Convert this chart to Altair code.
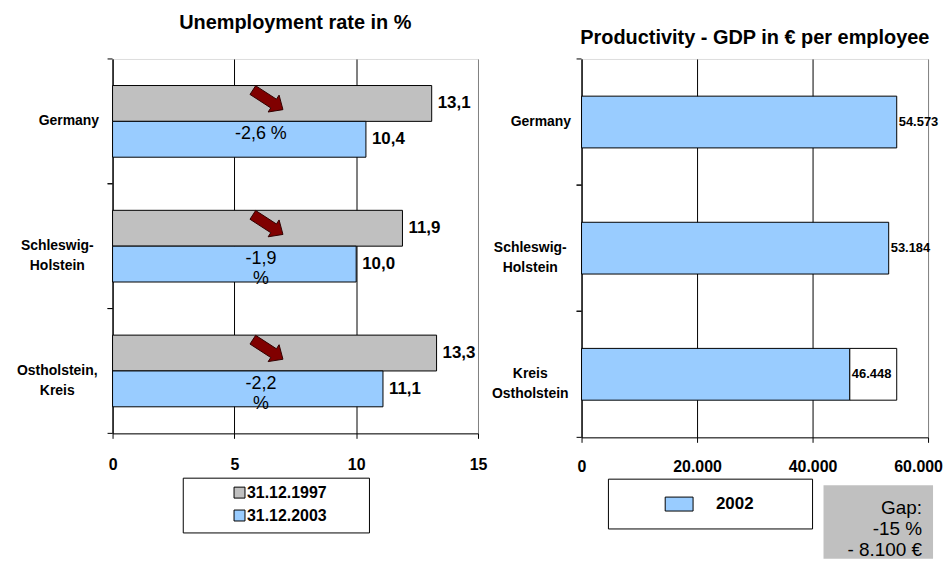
import math
import altair as alt
import pandas as pd

# ---------------- data ----------------
regions_u = ["Germany", "Schleswig-\nHolstein", "Ostholstein,\nKreis"]
series_u = ["31.12.1997", "31.12.2003"]
rate_1997 = [13.1, 11.9, 13.3]
rate_2003 = [10.4, 10.0, 11.1]
change_labels = ["-2,6 %", "-1,9\n%", "-2,2\n%"]
u_ticks = [0, 5, 10, 15]

regions_p = ["Germany", "Schleswig-\nHolstein", "Kreis\nOstholstein"]
year_p = ["2002"]
gdp_2002 = [54573, 53184, 46448]
gap_lines = ["Gap:", "-15 %", "- 8.100 €"]
p_ticks = [0, 20000, 40000, 60000]

colors_u = ["#C0C0C0", "#99CCFF"]
colors_p = ["#99CCFF"]

FONT = "Liberation Sans"
BAR_U = 36          # bar thickness (px), left chart
SHIFT_U = [-18, 18]  # pixel shift of each series' bar from the band centre
BAR_P = 52


def arrow_path(angle_deg=33, dy=-0.2):
    pts = [(-1, -0.29), (0.38, -0.29), (0.38, -0.56), (1, 0), (0.38, 0.56), (0.38, 0.29), (-1, 0.29)]
    a = math.radians(angle_deg)
    out = []
    for x, y in pts:
        xr = x * math.cos(a) - y * math.sin(a)
        yr = x * math.sin(a) + y * math.cos(a) + dy
        out.append(f"{xr:.3f} {yr:.3f}")
    return "M " + " L ".join(out) + " Z"


# ---------------- left chart ----------------
WU, HU = 367, 376
df_u = pd.DataFrame({
    "region": regions_u * 2,
    "series": [series_u[0]] * 3 + [series_u[1]] * 3,
    "rate": rate_1997 + rate_2003,
})

yaxis_u = alt.Axis(
    title=None, ticks=False, domain=True, domainColor="black", grid=False,
    labelExpr="split(datum.label, '\\n')", labelFont=FONT, labelFontSize=14,
    labelFontWeight="bold", labelColor="black", labelLineHeight=20, labelBaseline="middle",
    labelAlign=alt.condition("datum.value === 'Germany'", alt.value("right"), alt.value("center")),
    labelPadding=alt.condition("datum.value === 'Germany'", alt.value(14), alt.value(56)),
)
yscale_u = alt.Scale(domain=regions_u, paddingInner=0, paddingOuter=0)
y_u = alt.Y("region:N", sort=regions_u, scale=yscale_u, axis=yaxis_u)
xaxis_u = alt.Axis(
    title=None, values=u_ticks, grid=True,
    gridColor=alt.condition("datum.value === 15", alt.value("#808080"), alt.value("black")),
    domainColor="black", tickColor="black", tickSize=5, labelFont=FONT, labelFontSize=16,
    labelFontWeight="bold", labelColor="black", labelPadding=18, labelFlush=False, labelOverlap=False,
)
xscale_u = alt.Scale(domain=[0, 15], nice=False)
x_u = alt.X("rate:Q", scale=xscale_u, axis=xaxis_u)
color_u = alt.Color("series:N", scale=alt.Scale(domain=series_u, range=colors_u), legend=None)

layers_u = []
for i, s in enumerate(series_u):
    base = alt.Chart(df_u).transform_filter(alt.datum.series == s)
    layers_u.append(base.mark_bar(stroke="black", strokeWidth=1, height=BAR_U,
                                  yOffset=SHIFT_U[i]).encode(y=y_u, x=x_u, color=color_u))
for i, s in enumerate(series_u):
    base = alt.Chart(df_u).transform_filter(alt.datum.series == s)
    layers_u.append(base.transform_calculate(
        lbl="replace(format(datum.rate, '.1f'), '.', ',')"
    ).mark_text(align="left", baseline="middle", dx=6, dy=SHIFT_U[i], font=FONT, fontSize=17,
                fontWeight="bold", color="black").encode(y=y_u, x=x_u, text="lbl:N"))

df_ticks_u = pd.DataFrame({"region": regions_u})
ticks_u = [
    alt.Chart(df_ticks_u).mark_rule(color="black", strokeWidth=1).encode(
        y=alt.Y("region:N", sort=regions_u, scale=yscale_u, axis=yaxis_u, bandPosition=bp),
        x=alt.value(-5), x2=alt.value(0))
    for bp in (0, 1)
]

df_arrow = pd.DataFrame({"region": regions_u})
arrows = alt.Chart(df_arrow).mark_point(
    shape=arrow_path(), size=1300, filled=True, fill="#800000", stroke="#300000",
    strokeWidth=1, opacity=1, yOffset=SHIFT_U[0]).encode(y=y_u, x=alt.value(156))

df_change = pd.DataFrame({"region": regions_u, "change": change_labels})
changes = alt.Chart(df_change).mark_text(
    lineBreak="\n", lineHeight=20, font=FONT, fontSize=18, baseline="middle", dy=SHIFT_U[1] - 5,
    align="center", color="black").encode(y=y_u, x=alt.value(149), text="change:N")

one = pd.DataFrame({"k": [0]})
leg_u = [alt.Chart(one).mark_rect(fill="white", stroke="black", strokeWidth=1).encode(
    x=alt.value(71), x2=alt.value(258), y=alt.value(421), y2=alt.value(476))]
for i, s in enumerate(series_u):
    d = pd.DataFrame({"series": [s]})
    leg_u.append(alt.Chart(d).mark_rect(stroke="black", strokeWidth=1).encode(
        x=alt.value(122), x2=alt.value(133), y=alt.value(430 + 23 * i), y2=alt.value(441 + 23 * i),
        color=color_u))
    leg_u.append(alt.Chart(d).mark_text(align="left", baseline="middle", font=FONT, fontSize=16,
                                        fontWeight="bold", color="black").encode(
        x=alt.value(135), y=alt.value(436 + 23 * i), text="series:N"))

left = alt.layer(*layers_u, *ticks_u, arrows, changes, *leg_u).properties(
    width=WU, height=HU,
    title=alt.TitleParams("Unemployment rate in %", font=FONT, fontSize=20, fontWeight="bold",
                          color="black", offset=26, anchor="middle"))

# ---------------- right chart ----------------
WP, HP = 348, 380
df_p = pd.DataFrame({"region": regions_p, "year": year_p * 3, "gdp": gdp_2002})

yaxis_p = alt.Axis(
    title=None, ticks=False, domain=True, domainColor="black", grid=False,
    labelExpr="split(datum.label, '\\n')", labelFont=FONT, labelFontSize=14,
    labelFontWeight="bold", labelColor="black", labelLineHeight=20, labelBaseline="middle",
    labelAlign=alt.condition("datum.value === 'Germany'", alt.value("right"), alt.value("center")),
    labelPadding=alt.condition("datum.value === 'Germany'", alt.value(11), alt.value(52)),
)
yscale_p = alt.Scale(domain=regions_p, paddingInner=0, paddingOuter=0)
y_p = alt.Y("region:N", sort=regions_p, scale=yscale_p, axis=yaxis_p)
xaxis_p = alt.Axis(
    title=None, values=p_ticks, grid=True,
    labelExpr="replace(format(datum.value, ','), ',', '.')",
    gridColor=alt.condition("datum.value === 60000", alt.value("#808080"), alt.value("black")),
    labelOffset=alt.condition("datum.value === 60000", alt.value(-10), alt.value(0)),
    domainColor="black", tickColor="black", tickSize=5, labelFont=FONT, labelFontSize=16,
    labelFontWeight="bold", labelColor="black", labelPadding=16, labelFlush=False, labelOverlap=False,
)
xscale_p = alt.Scale(domain=[0, 60000], nice=False)
x_p = alt.X("gdp:Q", scale=xscale_p, axis=xaxis_p)
color_p = alt.Color("year:N", scale=alt.Scale(domain=year_p, range=colors_p), legend=None)

bars_p = alt.Chart(df_p).mark_bar(stroke="black", strokeWidth=1, height=BAR_P).encode(
    y=y_p, x=x_p, color=color_p)

df_gap = pd.DataFrame({"region": [regions_p[2]], "gdp": [gdp_2002[2]], "ref": [gdp_2002[0]]})
gap_bar = alt.Chart(df_gap).mark_bar(fill="white", stroke="black", strokeWidth=1,
                                     height=BAR_P).encode(y=y_p, x=x_p, x2="ref:Q")

vals_p = alt.Chart(df_p).transform_calculate(
    lbl="replace(format(datum.gdp, ','), ',', '.')"
).mark_text(align="left", baseline="middle", dx=2, font=FONT, fontSize=13,
            fontWeight="bold", color="black").encode(y=y_p, x=x_p, text="lbl:N")

df_ticks_p = pd.DataFrame({"region": regions_p})
ticks_p = [
    alt.Chart(df_ticks_p).mark_rule(color="black", strokeWidth=1).encode(
        y=alt.Y("region:N", sort=regions_p, scale=yscale_p, axis=yaxis_p, bandPosition=bp),
        x=alt.value(-5), x2=alt.value(0))
    for bp in (0, 1)
]

leg_p = [
    alt.Chart(one).mark_rect(fill="white", stroke="black", strokeWidth=1).encode(
        x=alt.value(27), x2=alt.value(232), y=alt.value(422), y2=alt.value(472)),
    alt.Chart(pd.DataFrame({"year": year_p})).mark_rect(stroke="black", strokeWidth=1).encode(
        x=alt.value(84), x2=alt.value(112), y=alt.value(440), y2=alt.value(454), color=color_p),
    alt.Chart(pd.DataFrame({"year": year_p})).mark_text(
        align="left", baseline="middle", font=FONT, fontSize=17, fontWeight="bold",
        color="black").encode(x=alt.value(135), y=alt.value(447), text="year:N"),
    alt.Chart(one).mark_rect(fill="#C0C0C0").encode(
        x=alt.value(243), x2=alt.value(353), y=alt.value(428), y2=alt.value(502)),
    alt.Chart(pd.DataFrame({"txt": ["\n".join(gap_lines)]})).mark_text(
        lineBreak="\n", lineHeight=21, align="right", baseline="middle", font=FONT,
        fontSize=19, color="black").encode(x=alt.value(342), y=alt.value(451), text="txt:N"),
]

right = alt.layer(bars_p, gap_bar, *ticks_p, vals_p, *leg_p).properties(
    width=WP, height=HP,
    title=alt.TitleParams("Productivity - GDP in € per employee", font=FONT, fontSize=20,
                          fontWeight="bold", color="black", offset=11, anchor="middle"))

chart = alt.hconcat(left, right, spacing=2).resolve_scale(
    color="independent").properties(
    padding={"left": 8, "top": 3, "right": 0, "bottom": 0}
).configure_view(stroke=None).configure(font=FONT, background="white")

chart.save("out.html", embed_options={"renderer": "svg", "actions": False})
